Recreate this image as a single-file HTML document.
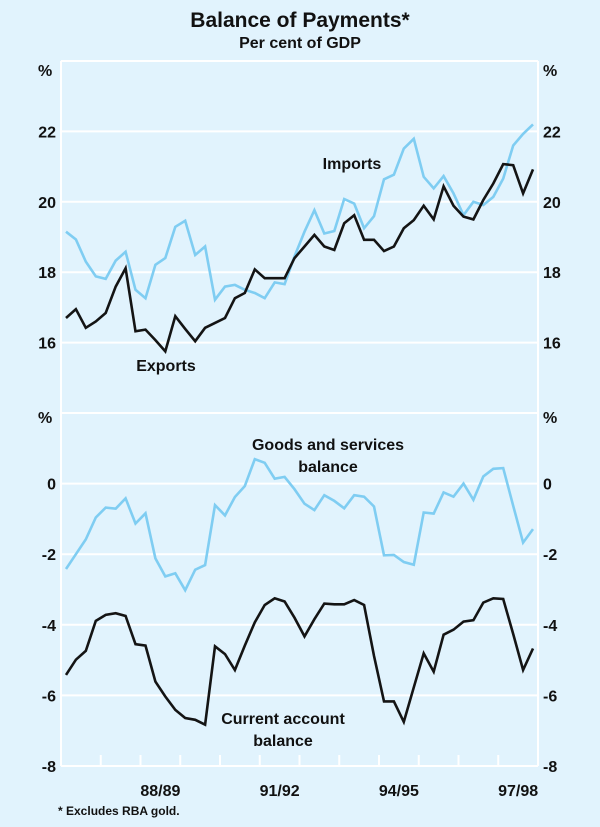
<!DOCTYPE html>
<html><head><meta charset="utf-8"><style>
body{margin:0;background:#e1f3fd;}
svg{display:block;font-family:"Liberation Sans",Arial,sans-serif;font-weight:bold;}
</style></head><body>
<svg id="chart" width="600" height="827" viewBox="0 0 600 827">
<rect width="600" height="827" fill="#e1f3fd"/>
<text x="300" y="27" text-anchor="middle" font-size="21" fill="#111">Balance of Payments*</text>
<text x="300" y="48" text-anchor="middle" font-size="16" fill="#111">Per cent of GDP</text>
<g id="grid"></g>
<g id="series"></g>
<g id="labels" font-size="16" fill="#111"></g>
<text x="352" y="169" text-anchor="middle" font-size="16" fill="#111">Imports</text>
<text x="166" y="371" text-anchor="middle" font-size="16" fill="#111">Exports</text>
<text x="328" y="450" text-anchor="middle" font-size="16" fill="#111">Goods and services</text>
<text x="328" y="472" text-anchor="middle" font-size="16" fill="#111">balance</text>
<text x="283" y="724" text-anchor="middle" font-size="16" fill="#111">Current account</text>
<text x="283" y="746" text-anchor="middle" font-size="16" fill="#111">balance</text>
<text x="58" y="815" font-size="12" fill="#111">* Excludes RBA gold.</text>
</svg>
<script>
const imports=[19.15,18.93,18.30,17.88,17.81,18.33,18.58,17.50,17.26,18.21,18.40,19.29,19.46,18.49,18.73,17.22,17.59,17.64,17.50,17.41,17.26,17.71,17.66,18.45,
19.15,19.76,19.10,19.17,20.08,19.95,19.25,19.59,20.64,20.77,21.51,21.79,20.71,20.38,20.73,20.24,19.62,20.0,19.91,20.14,20.66,21.60,21.93,22.2];
const exportsS=[16.70,16.95,16.42,16.60,16.84,17.59,18.11,16.32,16.37,16.07,15.75,16.75,16.39,16.04,16.42,16.56,16.70,17.26,17.41,18.08,17.83,17.83,17.83,18.40,
18.73,19.06,18.73,18.63,19.39,19.62,18.92,18.92,18.60,18.73,19.25,19.48,19.89,19.50,20.44,19.89,19.58,19.50,20.05,20.52,21.07,21.04,20.24,20.92];
const goodsServices=[-2.42,-2.0,-1.58,-0.96,-0.68,-0.71,-0.42,-1.13,-0.84,-2.12,-2.63,-2.54,-3.02,-2.44,-2.31,-0.61,-0.90,-0.38,-0.07,0.69,0.59,0.14,0.19,-0.16,
-0.57,-0.75,-0.33,-0.49,-0.70,-0.33,-0.37,-0.65,-2.03,-2.02,-2.22,-2.30,-0.82,-0.85,-0.25,-0.37,0.0,-0.46,0.20,0.42,0.44,-0.63,-1.67,-1.29];
const currentAccount=[-5.42,-4.99,-4.74,-3.89,-3.72,-3.67,-3.75,-4.55,-4.59,-5.61,-6.03,-6.41,-6.64,-6.69,-6.83,-4.61,-4.83,-5.28,-4.59,-3.93,-3.44,-3.25,-3.34,-3.80,
-4.33,-3.84,-3.40,-3.42,-3.42,-3.30,-3.44,-4.88,-6.17,-6.17,-6.75,-5.77,-4.81,-5.33,-4.28,-4.14,-3.91,-3.87,-3.37,-3.25,-3.27,-4.26,-5.28,-4.67];
const topTicks=[22,20,18,16];
const bottomTicks=[0,-2,-4,-6,-8];
const yearLabels=["88/89","91/92","94/95","97/98"];
const yearLabelIndex=[3,6,9,12];
const NS="http://www.w3.org/2000/svg";
const L=61,R=538,T=61,M=413,B=766,NQ=48,NY=12;
const xq=i=>L+(i+0.5)*(R-L)/NQ;
const xy=k=>L+k*(R-L)/NY;
const yTop=v=>T+(24-v)*(M-T)/10;
const yBot=v=>M+(2-v)*(B-M)/10;
function mk(tag,attrs,parent){const e=document.createElementNS(NS,tag);for(const k in attrs)e.setAttribute(k,attrs[k]);parent.appendChild(e);return e;}
const grid=document.getElementById('grid'),ser=document.getElementById('series'),lab=document.getElementById('labels');
let e=mk('line',{x1:L,y1:T,x2:L,y2:B,stroke:'#fff','stroke-width':2},grid);


e=mk('line',{x1:R,y1:T,x2:R,y2:B,stroke:'#fff','stroke-width':2},grid);


e=mk('line',{x1:L,y1:T,x2:R,y2:T,stroke:'#fff','stroke-width':2},grid);


e=mk('line',{x1:L,y1:M,x2:R,y2:M,stroke:'#fff','stroke-width':2},grid);


e=mk('line',{x1:L,y1:B,x2:R,y2:B,stroke:'#fff','stroke-width':2},grid);


for(let k=1;k<NY;k++){e=mk('line',{x1:xy(k),y1:B,x2:xy(k),y2:B-11,stroke:'#fff','stroke-width':2},grid);

}
topTicks.forEach(v=>{const y=yTop(v);
e=mk('line',{x1:L,y1:y,x2:R,y2:y,stroke:'#fff','stroke-width':2},grid);


e=mk('text',{x:56,y:y+6,'text-anchor':'end'},lab);e.textContent=v;


e=mk('text',{x:543,y:y+6},lab);e.textContent=v;

});
bottomTicks.forEach(v=>{const y=yBot(v);
if(v>-8){e=mk('line',{x1:L,y1:y,x2:R,y2:y,stroke:'#fff','stroke-width':2},grid);

}
e=mk('text',{x:56,y:y+6,'text-anchor':'end'},lab);e.textContent=v;


e=mk('text',{x:543,y:y+6},lab);e.textContent=v;

});
[[T+15],[M+10]].forEach(p=>{
e=mk('text',{x:38,y:p[0]},lab);e.textContent='%';


e=mk('text',{x:543,y:p[0]},lab);e.textContent='%';

});
yearLabels.forEach((s,j)=>{const k=yearLabelIndex[j];
e=mk('text',{x:(xy(k)+xy(k-1))/2,y:796,'text-anchor':'middle'},lab);e.textContent=s;

});
function line(data,yf,color,name){const d=data.map((v,i)=>(i?'L':'M')+xq(i).toFixed(1)+','+yf(v).toFixed(1)).join('');
const p=mk('path',{d:d,fill:'none',stroke:color,'stroke-width':2.6,'stroke-linejoin':'miter'},ser);

}
line(imports,yTop,'#7fcdf2','imports-line');
line(exportsS,yTop,'#141414','exports-line');
line(goodsServices,yBot,'#7fcdf2','goods-services-balance-line');
line(currentAccount,yBot,'#141414','current-account-balance-line');
</script>
</body></html>
